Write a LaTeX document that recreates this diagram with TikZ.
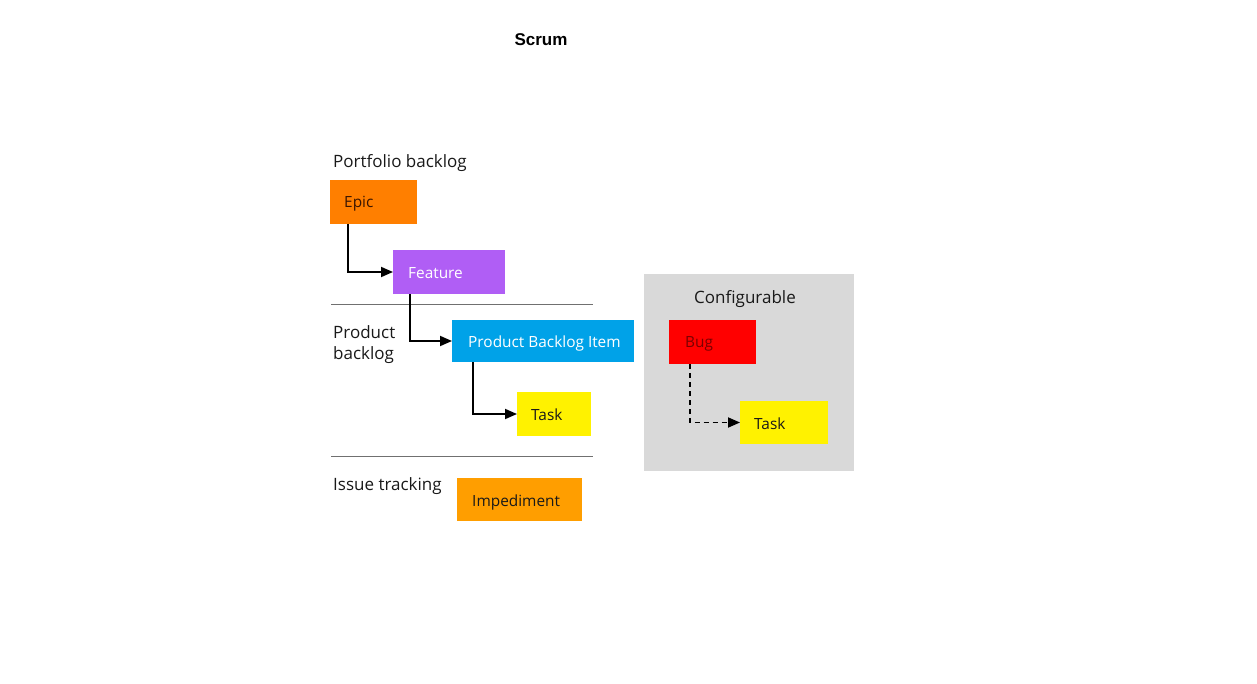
\documentclass[tikz,border=0pt]{standalone}
\usepackage{fontspec}
\setmainfont{Open Sans}
\newfontfamily\titlefont{Liberation Sans}
\usetikzlibrary{arrows.meta}
\definecolor{epicC}{HTML}{FF7F00}
\definecolor{featC}{HTML}{B05EF5}
\definecolor{pbiC}{HTML}{00A2E8}
\definecolor{taskC}{HTML}{FFF200}
\definecolor{impC}{HTML}{FF9E00}
\definecolor{bugC}{HTML}{FF0000}
\definecolor{panelC}{HTML}{D9D9D9}
\definecolor{ruleC}{HTML}{707070}
\definecolor{epicT}{HTML}{3A1500}
\definecolor{bugT}{HTML}{7A0000}
\tikzset{
  wbox/.style={inner sep=0pt, outer sep=0pt, anchor=north west},
  wlabel/.style={font=\fontsize{15.4}{16}\selectfont, anchor=west, inner sep=0pt},
  seclabel/.style={font=\fontsize{17}{21}\selectfont, anchor=west, inner sep=0pt, align=left, text=black!90},
  conn/.style={draw=black, line width=1.8pt, -{Triangle[length=12pt,width=10pt]}},
}
\begin{document}
\begin{tikzpicture}[x=1pt,y=-1pt]
\useasboundingbox (0,0) rectangle (1257,684);
% title
\node[font=\titlefont\bfseries\fontsize{17}{19}\selectfont, inner sep=0pt] (title) at (541,40) {Scrum};
% panel
\fill[panelC] (644,274) rectangle (854,471);
\node[font=\fontsize{17}{19}\selectfont, inner sep=0pt, text=black!90] (conf) at (745,299) {Configurable};
% section labels
\node[seclabel] (pf) at (333,163) {Portfolio backlog};
\node[seclabel] (pb) at (333,344.5) {Product\\backlog};
\node[seclabel] (it) at (333,486) {Issue tracking};
% rules
\draw[ruleC, line width=0.8pt] (331,304) coordinate (r1a) -- (593,304) coordinate (r1b);
\draw[ruleC, line width=0.8pt] (331,456) coordinate (r2a) -- (593,456) coordinate (r2b);
% boxes
\path[fill=epicC] (330,180) rectangle (417,224);
\node[wbox, minimum width=87pt, minimum height=44pt] (epic) at (330,180) {};
\node[wlabel, text=epicT] (epicL) at (344,204) {Epic};

\path[fill=featC] (393,250) rectangle (505,294);
\node[wbox, minimum width=112pt, minimum height=44pt] (feat) at (393,250) {};
\node[wlabel, text=white] (featL) at (408,273) {Feature};

\path[fill=pbiC] (452,320) rectangle (634,362);
\node[wbox, minimum width=182pt, minimum height=42pt] (pbi) at (452,320) {};
\node[wlabel, text=white] (pbiL) at (468,343) {Product Backlog Item};

\path[fill=taskC] (517,392) rectangle (591,436);
\node[wbox, minimum width=74pt, minimum height=44pt] (task) at (517,392) {};
\node[wlabel, text=black!90] (taskL) at (531,415) {Task};

\path[fill=impC] (457,478) rectangle (582,521);
\node[wbox, minimum width=125pt, minimum height=43pt] (imp) at (457,478) {};
\node[wlabel, text=black!90] (impL) at (472,502) {Impediment};

\path[fill=bugC] (669,320) rectangle (756,364);
\node[wbox, minimum width=87pt, minimum height=44pt] (bug) at (669,320) {};
\node[wlabel, text=bugT] (bugL) at (685,344) {Bug};

\path[fill=taskC] (740,401) rectangle (828,444);
\node[wbox, minimum width=88pt, minimum height=43pt] (task2) at (740,401) {};
\node[wlabel, text=black!90] (task2L) at (754,424) {Task};

% connectors
\draw[conn] (epic.south west) ++(18,0) |- (feat.west);
\draw[conn] (feat.south west) ++(17,0) |- (pbi.west);
\draw[conn] (pbi.south west) ++(21,0) |- (task.west);
\draw[conn, dash pattern=on 5pt off 4pt] (bug.south west) ++(21,0) |- (task2.west);
\end{tikzpicture}
\end{document}
